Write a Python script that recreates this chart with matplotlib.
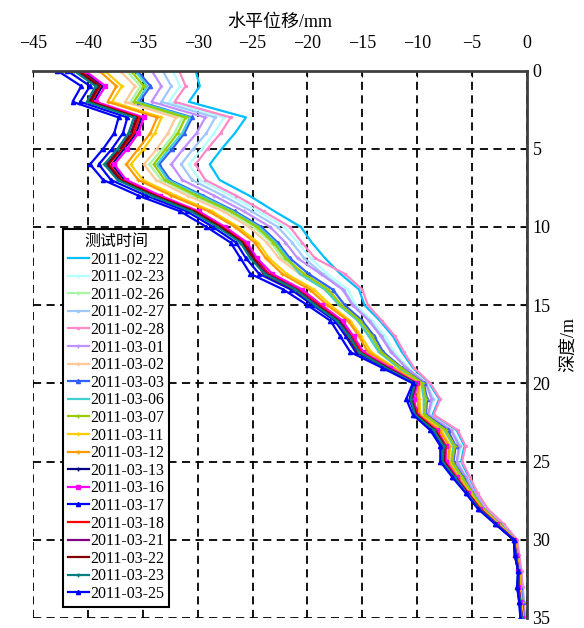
import matplotlib
matplotlib.use('Agg')
import matplotlib.pyplot as plt

plt.rcParams['font.family'] = ['Liberation Serif', 'Noto Sans CJK SC']
plt.rcParams['axes.unicode_minus'] = True

# depth of each reading (m)
depth = list(range(36))

# horizontal displacement (mm) per survey date
d0222 = [-30.2, -29.8, -30.8, -25.6, -26.6, -27.8, -28.9, -28.0, -25.3, -23.0, -20.6, -19.6, -18.4, -17.0, -15.3, -14.8,
         -13.4, -12.2, -11.4, -10.4, -8.9, -8.0, -8.6, -6.4, -5.7, -6.0, -5.3, -4.6, -3.7, -2.2, -1.0, -0.8, -0.6, -0.4, -0.3, -0.2]
d0223 = [-32.3, -31.6, -32.6, -27.6, -28.5, -29.6, -30.8, -29.8, -27.0, -24.5, -22.1, -20.9, -19.7, -18.2, -16.3, -15.6,
         -14.1, -12.9, -12.1, -10.8, -9.1, -8.5, -8.9, -6.8, -6.0, -6.3, -5.5, -4.8, -3.8, -2.3, -1.0, -0.8, -0.6, -0.5, -0.4, -0.3]
d0226 = [-36.5, -35.2, -36.1, -31.4, -32.1, -33.2, -34.4, -33.3, -30.4, -27.3, -24.9, -23.3, -22.3, -20.4, -18.2, -17.0,
         -15.3, -14.2, -13.4, -11.6, -9.5, -9.3, -9.4, -7.4, -6.6, -6.8, -5.9, -5.0, -4.0, -2.5, -1.1, -0.9, -0.7, -0.6, -0.5, -0.4]
d0227 = [-33.2, -32.4, -33.3, -28.4, -29.2, -30.4, -31.5, -30.5, -27.7, -25.1, -22.7, -21.4, -20.3, -18.6, -16.7, -15.8,
         -14.3, -13.2, -12.3, -11.0, -9.2, -8.6, -9.0, -6.9, -6.1, -6.4, -5.6, -4.8, -3.9, -2.3, -1.0, -0.9, -0.6, -0.5, -0.4, -0.3]
d0228 = [-31.7, -31.1, -32.1, -27.0, -27.9, -29.1, -30.2, -29.3, -26.5, -24.0, -21.6, -20.5, -19.3, -16.6, -15.0, -14.5,
         -13.2, -12.0, -11.2, -10.3, -8.8, -7.9, -8.5, -6.3, -5.6, -5.9, -5.2, -4.5, -3.6, -2.1, -0.9, -0.7, -0.5, -0.4, -0.3, -0.2]
d0301 = [-34.2, -33.3, -34.2, -29.3, -30.1, -31.3, -32.4, -31.4, -28.5, -25.8, -23.4, -22.0, -20.9, -18.8, -16.8, -15.9,
         -14.4, -13.3, -12.4, -11.0, -9.2, -8.7, -9.0, -6.9, -6.2, -6.4, -5.6, -4.8, -3.9, -2.4, -1.0, -0.9, -0.6, -0.5, -0.4, -0.3]
d0302 = [-37.1, -35.7, -36.6, -32.0, -32.7, -33.7, -34.9, -33.8, -30.9, -27.7, -25.3, -23.7, -22.6, -20.7, -18.4, -17.1,
         -15.4, -14.4, -13.5, -11.7, -9.6, -9.4, -9.4, -7.5, -6.7, -6.9, -6.0, -5.1, -4.1, -2.5, -1.1, -0.9, -0.7, -0.6, -0.5, -0.4]
d0303 = [-35.5, -34.3, -35.3, -30.5, -31.2, -32.3, -33.5, -32.5, -29.5, -26.6, -24.2, -22.7, -21.6, -19.9, -17.7, -16.6,
         -15.0, -13.9, -13.1, -11.4, -9.4, -9.1, -9.2, -7.2, -6.5, -6.7, -5.8, -5.0, -4.0, -2.5, -1.1, -0.9, -0.7, -0.6, -0.4, -0.3]
d0306 = [-35.7, -34.6, -35.5, -30.7, -31.4, -32.6, -33.7, -32.7, -29.7, -26.8, -24.4, -22.9, -21.8, -20.7, -18.4, -17.1,
         -15.4, -14.4, -13.5, -11.7, -9.6, -9.4, -9.4, -7.5, -6.7, -6.9, -6.0, -5.1, -4.1, -2.5, -1.1, -0.9, -0.7, -0.6, -0.5, -0.4]
d0307 = [-36.1, -34.9, -35.8, -31.1, -31.8, -32.9, -34.0, -33.0, -30.1, -27.0, -24.6, -23.1, -22.0, -20.3, -18.1, -16.9,
         -15.2, -14.1, -13.3, -11.5, -9.5, -9.2, -9.3, -7.4, -6.6, -6.8, -5.9, -5.0, -4.0, -2.5, -1.1, -0.9, -0.7, -0.6, -0.5, -0.4]
d0311 = [-38.5, -36.9, -37.8, -33.3, -33.9, -34.9, -36.1, -35.0, -32.0, -28.7, -26.3, -24.5, -23.5, -21.9, -19.4, -17.9,
         -16.1, -15.1, -14.2, -12.1, -9.8, -9.8, -9.7, -7.8, -7.0, -7.1, -6.2, -5.2, -4.2, -2.6, -1.1, -1.0, -0.7, -0.7, -0.5, -0.4]
d0312 = [-39.0, -37.4, -38.2, -33.7, -34.3, -35.4, -36.5, -35.4, -32.4, -29.0, -26.6, -24.8, -23.8, -22.3, -19.8, -18.2,
         -16.3, -15.3, -14.5, -12.2, -9.9, -10.0, -9.8, -8.0, -7.1, -7.2, -6.3, -5.3, -4.2, -2.7, -1.1, -1.0, -0.7, -0.7, -0.6, -0.5]
d0313 = [-40.5, -38.7, -39.5, -35.1, -35.6, -36.7, -37.8, -36.7, -33.6, -30.1, -27.6, -25.7, -24.7, -23.6, -20.8, -19.0,
         -17.0, -16.0, -15.2, -12.6, -10.1, -10.4, -10.0, -8.3, -7.5, -7.5, -6.5, -5.4, -4.3, -2.8, -1.2, -1.0, -0.8, -0.8, -0.6, -0.5]
d0316 = [-40.3, -38.4, -39.3, -34.9, -35.4, -36.4, -37.6, -36.5, -33.4, -29.9, -27.5, -25.5, -24.6, -23.2, -20.5, -18.7,
         -16.8, -15.8, -14.9, -12.5, -10.0, -10.3, -10.0, -8.2, -7.4, -7.4, -6.4, -5.4, -4.3, -2.7, -1.2, -1.0, -0.8, -0.8, -0.6, -0.5]
d0317 = [-41.9, -39.8, -40.7, -36.4, -36.8, -37.8, -39.0, -37.9, -34.7, -31.0, -28.6, -26.5, -25.6, -24.4, -21.5, -19.5,
         -17.5, -16.5, -15.6, -12.9, -10.3, -10.7, -10.2, -8.6, -7.7, -7.7, -6.7, -5.5, -4.4, -2.8, -1.2, -1.1, -0.8, -0.9, -0.7, -0.6]
d0318 = [-40.8, -38.9, -39.7, -35.3, -35.8, -36.9, -38.1, -36.9, -33.8, -30.2, -27.8, -25.8, -24.9, -23.5, -20.9, -18.9,
         -17.1, -16.0, -15.1, -12.7, -10.1, -10.5, -10.0, -8.3, -7.4, -7.5, -6.5, -5.4, -4.3, -2.8, -1.2, -1.0, -0.8, -0.8, -0.6, -0.5]
d0321 = [-41.0, -39.1, -39.9, -35.6, -36.1, -37.1, -38.3, -37.1, -34.0, -30.4, -28.0, -26.0, -25.0, -23.7, -21.0, -19.1,
         -17.1, -16.1, -15.3, -12.7, -10.1, -10.5, -10.1, -8.4, -7.5, -7.6, -6.5, -5.4, -4.4, -2.8, -1.2, -1.0, -0.8, -0.8, -0.6, -0.5]
d0322 = [-40.9, -39.0, -39.8, -35.5, -36.0, -37.0, -38.2, -37.0, -33.9, -30.3, -27.9, -25.9, -24.9, -24.0, -21.2, -19.2,
         -17.2, -16.3, -15.4, -12.8, -10.2, -10.6, -10.1, -8.4, -7.6, -7.6, -6.6, -5.5, -4.4, -2.8, -1.2, -1.1, -0.8, -0.8, -0.7, -0.5]
d0323 = [-41.3, -39.3, -40.1, -35.8, -36.3, -37.3, -38.5, -37.3, -34.2, -30.6, -28.2, -26.1, -25.2, -23.9, -21.1, -19.3,
         -17.3, -16.2, -15.3, -12.9, -10.2, -10.6, -10.2, -8.5, -7.6, -7.7, -6.6, -5.5, -4.4, -2.8, -1.2, -1.0, -0.8, -0.9, -0.6, -0.5]
d0325 = [-42.8, -40.6, -41.4, -37.2, -37.6, -38.6, -39.8, -38.6, -35.4, -31.6, -29.2, -27.0, -26.1, -25.2, -22.2, -20.0,
         -17.9, -17.0, -16.1, -13.2, -10.4, -11.0, -10.4, -8.8, -7.9, -7.9, -6.8, -5.6, -4.5, -2.9, -1.2, -1.1, -0.8, -0.9, -0.7, -0.6]

dates = ['2011-02-22', '2011-02-23', '2011-02-26', '2011-02-27', '2011-02-28',
         '2011-03-01', '2011-03-02', '2011-03-03', '2011-03-06', '2011-03-07',
         '2011-03-11', '2011-03-12', '2011-03-13', '2011-03-16', '2011-03-17',
         '2011-03-18', '2011-03-21', '2011-03-22', '2011-03-23', '2011-03-25']
values = [d0222, d0223, d0226, d0227, d0228, d0301, d0302, d0303, d0306, d0307,
          d0311, d0312, d0313, d0316, d0317, d0318, d0321, d0322, d0323, d0325]

colors = ['#00bfff', '#b4ffff', '#a8f5a8', '#a0c8ff', '#ff88c8',
          '#c090ff', '#ffc898', '#3060ff', '#40d0d0', '#99cc00',
          '#ffcc00', '#ff9900', '#000080', '#ff00ff', '#0000ff',
          '#ff0000', '#800080', '#800000', '#008080', '#0000ff']
markers = ['', '+', '+', '.', '.', '+', '+', '^', '', '+',
           '+', '+', '+', 's', '^', '', '', '', '+', '^']

fig = plt.figure(figsize=(5.84, 6.28), dpi=100)
ax = fig.add_axes([33 / 584, 1 - 618 / 628, 494 / 584, 547.5 / 628])

for lab, v, c, m in zip(dates, values, colors, markers):
    ax.plot(v, depth, color=c, marker=m, markersize=3, linewidth=1.6, label=lab)

ax.set_xlim(-45, 0)
ax.set_ylim(35, 0)
ax.set_xticks(range(-45, 1, 5))
ax.set_yticks(range(0, 36, 5))
ax.xaxis.tick_top()
ax.xaxis.set_label_position('top')
ax.yaxis.tick_right()
ax.yaxis.set_label_position('right')
ax.tick_params(axis='x', direction='in', length=4, labelsize=13, pad=13)
ax.tick_params(axis='y', direction='in', length=4, labelsize=13, pad=4)
ax.set_xlabel('水平位移/mm', fontsize=13, labelpad=6)
ax.set_ylabel('深度/m', fontsize=13, labelpad=7)

ax.grid(True, color='black', linestyle=(0, (4.5, 3)), linewidth=1.3)
ax.spines['left'].set_visible(False)
ax.spines['bottom'].set_visible(False)
for s in ['top', 'right']:
    ax.spines[s].set_color('#404040')
    ax.spines[s].set_linewidth(2)

leg = ax.legend(title='测试时间', loc='upper left', bbox_to_anchor=(0.061, 0.71),
                fontsize=11.5, title_fontsize=11.5, fancybox=False, edgecolor='black',
                framealpha=1, handlelength=1.3, handletextpad=0.1,
                labelspacing=0.1, borderpad=0.3, borderaxespad=0)
leg.get_frame().set_linewidth(1.5)

fig.savefig('out.png', dpi=100)
